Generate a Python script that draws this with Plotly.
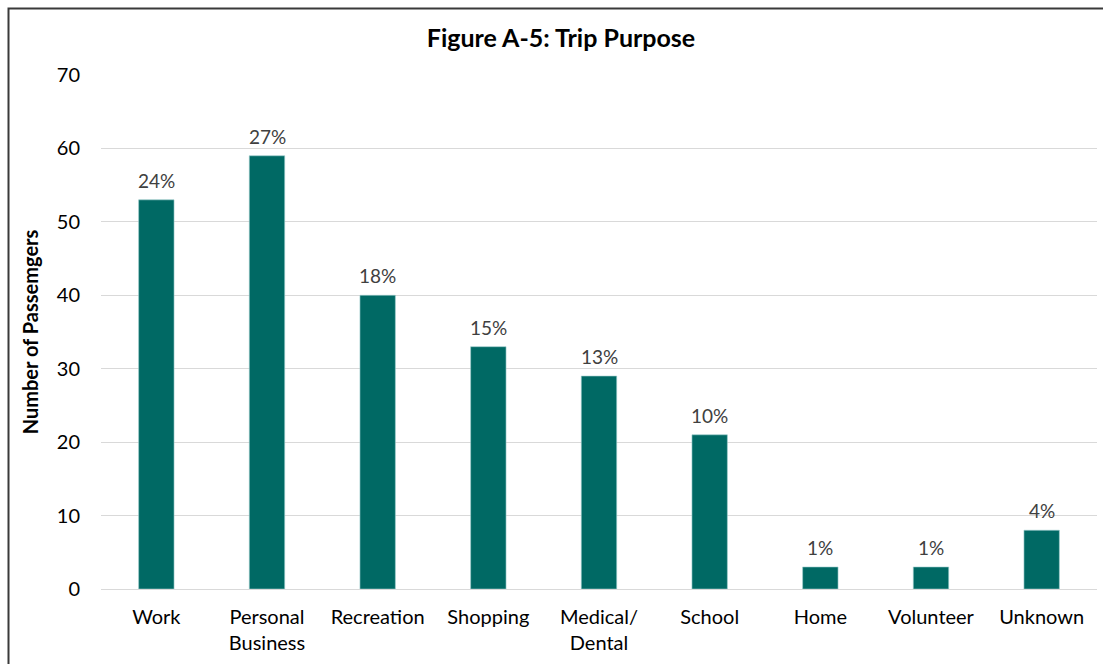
import plotly.graph_objects as go

# Trip purpose survey results
categories = ["Work", "Personal<br>Business", "Recreation", "Shopping", "Medical/<br>Dental",
              "School", "Home", "Volunteer", "Unknown"]
passengers = [53, 59, 40, 33, 29, 21, 3, 3, 8]
percent_labels = ["24%", "27%", "18%", "15%", "13%", "10%", "1%", "1%", "4%"]
y_ticks = [0, 10, 20, 30, 40, 50, 60, 70]

FONT = "Lato, Calibri, Carlito, sans-serif"
BAR_COLOR = "#006964"

W, H = 1103, 664
ML, MR, MT, MB = 101, 6, 75, 75
plot_w = W - ML - MR
plot_h = H - MT - MB


def px_to_paper_x(px):
    return (px - ML) / plot_w


def px_to_paper_y(py):
    return (H - MB - py) / plot_h


fig = go.Figure(
    go.Bar(
        x=categories,
        y=passengers,
        marker=dict(color=BAR_COLOR, line=dict(color="#9fcfcf", width=0.6)),
        width=0.32,
    )
)

# Percentage labels above each bar
for cat, val, lab in zip(categories, passengers, percent_labels):
    fig.add_annotation(
        x=cat,
        y=val,
        text=lab,
        showarrow=False,
        yanchor="bottom",
        yshift=6,
        font=dict(family=FONT, size=19, color="#404040"),
    )

fig.update_layout(
    width=W,
    height=H,
    margin=dict(l=ML, r=MR, t=MT, b=MB),
    paper_bgcolor="white",
    plot_bgcolor="white",
    showlegend=False,
    title=dict(
        text="<b>Figure A-5: Trip Purpose</b>",
        x=px_to_paper_x(561),
        xref="paper",
        xanchor="center",
        y=1 - 38 / H,
        yref="container",
        yanchor="middle",
        font=dict(family=FONT, size=25, color="black"),
    ),
    xaxis=dict(
        tickfont=dict(family=FONT, size=20, color="black"),
        showgrid=False,
        showline=False,
        ticks="",
        ticklabelstandoff=14,
    ),
    yaxis=dict(
        range=[0, 70],
        tickvals=y_ticks,
        tickfont=dict(family=FONT, size=20, color="black"),
        gridcolor="#d9d9d9",
        gridwidth=1,
        zeroline=True,
        zerolinecolor="#d9d9d9",
        zerolinewidth=1,
        showline=False,
        ticks="",
        ticklabelstandoff=20,
        title=dict(
            text="<b>Number of Passemgers</b>",
            font=dict(family=FONT, size=20, color="black"),
            standoff=12,
        ),
    ),
    shapes=[
        dict(
            type="rect",
            xref="paper",
            yref="paper",
            x0=px_to_paper_x(8.5),
            x1=px_to_paper_x(W + 20),
            y0=px_to_paper_y(H + 20),
            y1=px_to_paper_y(8.5),
            line=dict(color="#3a3a3a", width=2),
            fillcolor="rgba(0,0,0,0)",
            layer="below",
        )
    ],
)

fig.write_html("out.html")
